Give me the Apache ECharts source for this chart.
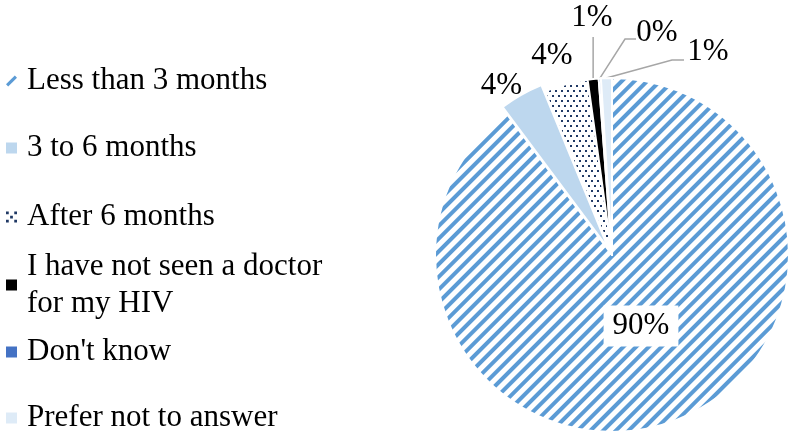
<!DOCTYPE html>
<html><head><meta charset="utf-8">
<script src="https://cdn.jsdelivr.net/npm/echarts@6/dist/echarts.min.js"></script>
<style>html,body{margin:0;padding:0;background:#fff}#c{width:788px;height:437px}</style>
</head><body><div id="c"></div>
<script>
// ---- data ----
const categories = ['Less than 3 months', '3 to 6 months', 'After 6 months',
  'I have not seen a doctor\nfor my HIV', "Don't know", 'Prefer not to answer'];
const values = [89.8, 4.0, 4.0, 1.0, 0.2, 1.0];
const percentLabels = ['90%', '4%', '4%', '1%', '0%', '1%'];

// ---- styling / layout ----
const FONT = '"Liberation Serif", "Times New Roman", serif';
const fills = ['#ffffff', '#BDD7EE', '#ffffff', '#000000', '#4472C4', '#DEEBF7'];
const iconColors = ['#5B9BD5', '#BDD7EE', '#1F3864', '#000000', '#4472C4', '#DEEBF7'];
const legendIcons = [
  'path://M0,8 L8,0 L10,2 L2,10 Z',
  'rect',
  'path://M0,0h2v2h-2z M6,0h2v2h-2z M3,3h2v2h-2z M0,6h2v2h-2z M6,6h2v2h-2z',
  'rect', 'rect', 'rect'
];
const legendY = [81, 148, 217, 285, 352, 418];
const labelSpots = [[641, 326], [495, 78], [552, 56], [592, 18], [657, 33], [708, 52]];
const lineEnds = {3: [[null, 55], [null, 37]], 4: [[625, 39], [636, 39]], 5: [[672, 60], [684, 60]]};

const decals = [
  {symbol: 'rect', symbolSize: 1, color: '#5B9BD5', dashArrayX: [1, 0], dashArrayY: [4, 5], rotation: -Math.PI / 4},
  'none',
  {symbol: 'rect', symbolSize: 1, color: '#1F3864', dashArrayX: [[2, 4], [0, 3, 2, 1]], dashArrayY: [2, 2.5], rotation: 0},
  'none', 'none', 'none'
];

const chart = echarts.init(document.getElementById('c'), null, {renderer: 'canvas'});

const pieData = categories.map((name, i) => {
  const item = {
    name, value: values[i],
    itemStyle: {color: fills[i]},
    label: {formatter: percentLabels[i]},
    labelLine: {show: !!lineEnds[i]}
  };
  if (decals[i] !== 'none') item.itemStyle.decal = decals[i];
  if (i === 0) {
    item.label.position = 'inside';
    item.label.backgroundColor = '#ffffff';
    item.label.padding = [6, 9, 4, 9];
  }
  if (i === 1) item.selected = true;
  return item;
});

const legends = categories.map((name, i) => {
  const multi = name.indexOf('\n') >= 0;
  const lh = multi ? 37 : 34;
  return {
    data: [{name, icon: legendIcons[i], itemStyle: {color: iconColors[i], decal: 'none', borderWidth: 0}}],
    orient: 'vertical', left: 6,
    top: multi ? legendY[i] - (lh * 3) / 2 : legendY[i] - lh / 2,
    padding: 0, itemWidth: 11, itemHeight: 11, selectedMode: false,
    textStyle: {fontFamily: FONT, fontSize: 31, color: '#000', lineHeight: lh,
      padding: multi ? [lh, 0, 0, 5] : [0, 0, 0, 5]}
  };
});

chart.setOption({
  animation: false,
  backgroundColor: '#ffffff',
  legend: legends,
  series: [{
    type: 'pie',
    center: [612, 255],
    radius: 177,
    startAngle: 90,
    clockwise: true,
    selectedMode: 'multiple',
    selectedOffset: 7,
    avoidLabelOverlap: false,
    itemStyle: {borderColor: '#ffffff', borderWidth: 2},
    emphasis: {disabled: true},
    label: {show: true, position: 'outside', fontFamily: FONT, fontSize: 31, color: '#000'},
    labelLine: {lineStyle: {color: '#A6A6A6', width: 1.5}, length: 10, length2: 10},
    labelLayout: function (p) {
      const s = labelSpots[p.dataIndex];
      const out = {x: s[0], y: s[1], align: 'center', verticalAlign: 'middle'};
      const ends = lineEnds[p.dataIndex];
      if (ends && p.labelLinePoints) {
        const st = p.labelLinePoints[0];
        out.labelLinePoints = [[st[0], st[1]]].concat(ends.map(e => [e[0] === null ? st[0] : e[0], e[1]]));
      }
      return out;
    },
    data: pieData
  }]
});
</script>
</body></html>
